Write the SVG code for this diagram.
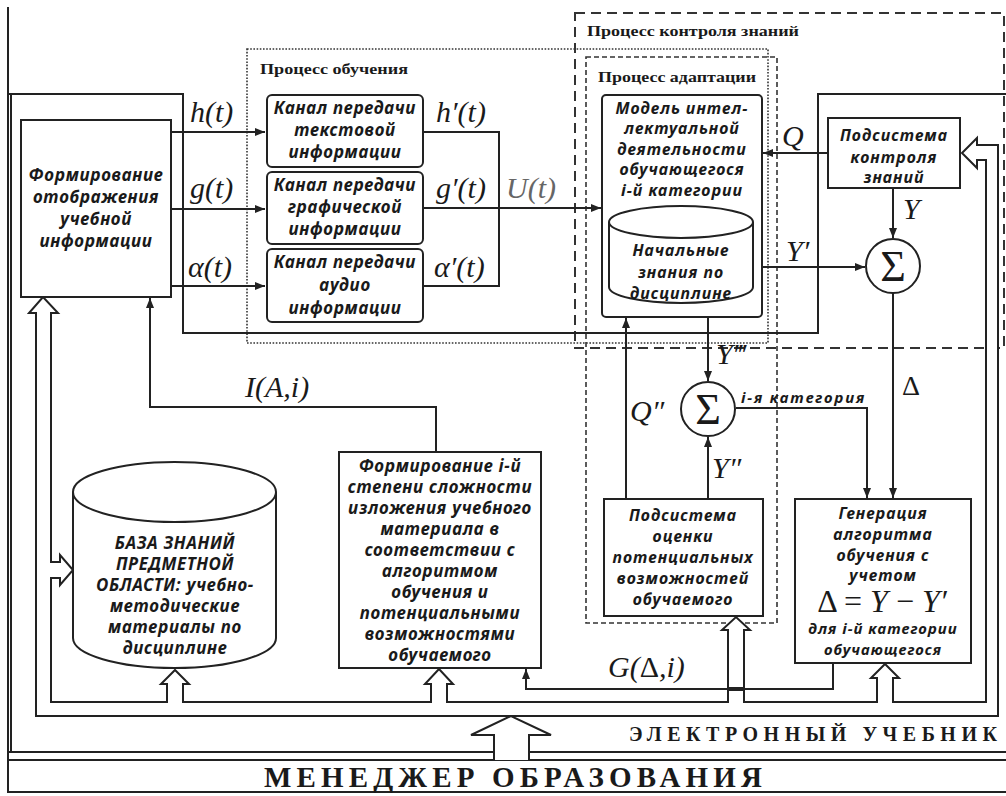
<svg xmlns="http://www.w3.org/2000/svg" width="1006" height="796" viewBox="0 0 1006 796">
<style>
.ln{fill:none;stroke:#222;stroke-width:2}
.bx{fill:#fff;stroke:#222;stroke-width:2}
.hp{fill:#fff;stroke:#222;stroke-width:2;stroke-linejoin:miter}
.dot{fill:none;stroke:#333;stroke-width:1.6;stroke-dasharray:1.6 1.6}
.dsh{fill:none;stroke:#333;stroke-width:2;stroke-dasharray:10 6}
.dsh2{fill:none;stroke:#333;stroke-width:1.6;stroke-dasharray:5 3}
.t{font-family:"Noto Sans","Liberation Sans",sans-serif;font-style:italic;font-weight:700;font-size:17px;letter-spacing:0.7px;fill:#1a1a1a;text-anchor:middle}
.s{font-size:16px;letter-spacing:1px}
.m{font-family:"Liberation Serif","Times New Roman",serif;font-style:italic;font-size:30px;fill:#1a1a1a}
.mu{font-family:"Liberation Serif","Times New Roman",serif;font-size:30px;fill:#1a1a1a}
.p{font-family:"Liberation Serif","Times New Roman",serif;font-weight:700;font-size:15px;fill:#1a1a1a}
.big{font-family:"Liberation Serif","Times New Roman",serif;font-weight:700;fill:#1a1a1a}
</style>
<defs>
<marker id="ah" viewBox="0 0 10 8" refX="10" refY="4" markerWidth="10" markerHeight="8" markerUnits="userSpaceOnUse" orient="auto"><path d="M0,0 L10,4 L0,8 z" fill="#222"/></marker>
</defs>
<rect width="1006" height="796" fill="#fff"/>

<g id="proc-learning">
<rect class="dot" x="247" y="49" width="521" height="294"/>
<text class="p" x="260" y="74" textLength="148" lengthAdjust="spacingAndGlyphs">Процесс обучения</text>
</g>
<g id="proc-control">
<rect class="dsh" x="575" y="13" width="429" height="335"/>
<text class="p" x="587" y="36" textLength="212" lengthAdjust="spacingAndGlyphs">Процесс контроля знаний</text>
</g>
<g id="proc-adapt">
<rect class="dsh2" x="586" y="57" width="191" height="566"/>
<text class="p" x="598" y="82" textLength="158" lengthAdjust="spacingAndGlyphs">Процесс адаптации</text>
</g>

<g id="connectors">
<path class="ln" d="M8,94 H183 V333 H818 V94 H1006"/>
<path class="ln" d="M171,132 H265" marker-end="url(#ah)"/>
<path class="ln" d="M171,209 H265" marker-end="url(#ah)"/>
<path class="ln" d="M171,286 H265" marker-end="url(#ah)"/>
<path class="ln" d="M423,132 H499 V286 H423"/>
<path class="ln" d="M423,208 H601" marker-end="url(#ah)"/>
<path class="ln" d="M828,153 H763" marker-end="url(#ah)"/>
<path class="ln" d="M893,188 V238" marker-end="url(#ah)"/>
<path class="ln" d="M762,267 H865" marker-end="url(#ah)"/>
<path class="ln" d="M893,293 V498" marker-end="url(#ah)"/>
<path class="ln" d="M708,317 V381" marker-end="url(#ah)"/>
<path class="ln" d="M626,499 V318" marker-end="url(#ah)"/>
<path class="ln" d="M708,499 V437" marker-end="url(#ah)"/>
<path class="ln" d="M736,408 H867 V498" marker-end="url(#ah)"/>
<path class="ln" d="M833,663 V689 H526 V669" marker-end="url(#ah)"/>
<path class="ln" d="M436,452 V407 H150 V298" marker-end="url(#ah)"/>
<path class="hp" d="M36,313 H29 L43,297 L58,313 H51 V562 H60 V555 L73,570 L60,585 V578 H51 V702 H167 V684 H161 L175,670 L189,684 H183 V702 H431 V684 H425 L439,669 L453,684 H447 V702 H728 V630 H722 L736,617 L750,630 H744 V702 H877 V678 H871 L885,664 L899,678 H893 V702 H986 V160 H977 V168 L962,153 L977,138 V145 H998 V716 H36 Z"/>
<rect x="728" y="687" width="16" height="4" fill="#222"/>
<text class="m" x="190" y="122">h(t)</text>
<text class="m" x="190" y="198">g(t)</text>
<text class="m" x="188" y="277">α(t)</text>
<text class="m" x="436" y="122">h′(t)</text>
<text class="m" x="436" y="198">g′(t)</text>
<text class="m" x="434" y="277">α′(t)</text>
<text class="m" x="506" y="198" style="fill:#666">U(t)</text>
<text class="m" x="782" y="146">Q</text>
<text class="m" x="903" y="219">Y</text>
<text class="m" x="786" y="261">Y′</text>
<text class="mu" x="902" y="395" style="font-size:28px">Δ</text>
<text class="m" x="716" y="364">Y‴</text>
<text class="m" x="630" y="421">Q″</text>
<text class="m" x="712" y="478">Y″</text>
<text class="t" x="741" y="403" style="text-anchor:start;font-size:15px" textLength="124" lengthAdjust="spacing">i-я категория</text>
<text class="m" x="245" y="397">I(A,i)</text>
<text class="m" x="608" y="677">G(<tspan style="font-style:normal">Δ</tspan>,i)</text>
</g>

<g id="formirovanie">
<rect class="bx" x="21" y="120" width="150" height="177"/>
<text class="t" x="96" y="181">Формирование</text>
<text class="t" x="96" y="203">отображения</text>
<text class="t" x="96" y="225">учебной</text>
<text class="t" x="96" y="247">информации</text>
</g>

<g id="ch-text">
<rect class="bx" x="267" y="95" width="156" height="72" rx="5"/>
<text class="t" x="345" y="114">Канал передачи</text>
<text class="t" x="345" y="136">текстовой</text>
<text class="t" x="345" y="158">информации</text>
</g>
<g id="ch-graph">
<rect class="bx" x="267" y="172" width="156" height="72" rx="5"/>
<text class="t" x="345" y="191">Канал передачи</text>
<text class="t" x="345" y="213">графической</text>
<text class="t" x="345" y="235">информации</text>
</g>
<g id="ch-audio">
<rect class="bx" x="267" y="249" width="156" height="73" rx="5"/>
<text class="t" x="345" y="268">Канал передачи</text>
<text class="t" x="345" y="291">аудио</text>
<text class="t" x="345" y="314">информации</text>
</g>

<g id="model">
<rect class="bx" x="602" y="95" width="160" height="222" rx="4"/>
<text class="t s" x="682" y="114">Модель интел-</text>
<text class="t s" x="682" y="134">лектуальной</text>
<text class="t s" x="682" y="155">деятельности</text>
<text class="t s" x="682" y="175">обучающегося</text>
<text class="t s" x="682" y="196">i-й категории</text>
</g>
<g id="init-knowledge">
<path class="bx" d="M609,222 V287 A72,16 0 0 0 753,287 V222"/>
<ellipse class="bx" cx="681" cy="222" rx="72" ry="16"/>
<text class="t s" x="681" y="256">Начальные</text>
<text class="t s" x="681" y="278">знания по</text>
<text class="t s" x="681" y="299">дисциплине</text>
</g>

<g id="ctrl-subsys">
<rect class="bx" x="828" y="118" width="132" height="70"/>
<text class="t s" x="894" y="141">Подсистема</text>
<text class="t s" x="894" y="163">контроля</text>
<text class="t s" x="894" y="183">знаний</text>
</g>

<g id="sum1">
<circle class="bx" cx="893" cy="266" r="27"/>
<text class="mu" x="893" y="281" style="font-size:44px;text-anchor:middle">Σ</text>
</g>
<g id="sum2">
<circle class="bx" cx="708" cy="409" r="27"/>
<text class="mu" x="708" y="424" style="font-size:44px;text-anchor:middle">Σ</text>
</g>

<g id="eval-subsys">
<rect class="bx" x="604" y="499" width="159" height="117"/>
<text class="t s" x="683" y="521">Подсистема</text>
<text class="t s" x="683" y="542">оценки</text>
<text class="t s" x="683" y="563">потенциальных</text>
<text class="t s" x="683" y="584">возможностей</text>
<text class="t s" x="683" y="605">обучаемого</text>
</g>

<g id="generation">
<rect class="bx" x="795" y="499" width="176" height="164"/>
<text class="t s" x="883" y="519">Генерация</text>
<text class="t s" x="883" y="540">алгоритма</text>
<text class="t s" x="883" y="561">обучения с</text>
<text class="t s" x="883" y="581">учетом</text>
<text class="m" x="882" y="612" style="font-size:32px;text-anchor:middle"><tspan style="font-style:normal">Δ = </tspan>Y<tspan style="font-style:normal"> − </tspan>Y′</text>
<text class="t" x="883" y="634" style="font-size:15px;letter-spacing:1px">для i-й категории</text>
<text class="t" x="883" y="655" style="font-size:15px;letter-spacing:1px">обучающегося</text>
</g>

<g id="complexity">
<rect class="bx" x="339" y="452" width="202" height="216"/>
<text class="t" x="440" y="472">Формирование i-й</text>
<text class="t" x="440" y="493">степени сложности</text>
<text class="t" x="440" y="514">изложения учебного</text>
<text class="t" x="440" y="535">материала в</text>
<text class="t" x="440" y="556">соответствии с</text>
<text class="t" x="440" y="577">алгоритмом</text>
<text class="t" x="440" y="598">обучения и</text>
<text class="t" x="440" y="619">потенциальными</text>
<text class="t" x="440" y="640">возможностями</text>
<text class="t" x="440" y="661">обучаемого</text>
</g>

<g id="kb">
<path class="bx" d="M73,492 V638 A101.5,30 0 0 0 276,638 V492"/>
<ellipse class="bx" cx="174.5" cy="492" rx="101.5" ry="30"/>
<text class="t" x="175" y="549">БАЗА ЗНАНИЙ</text>
<text class="t" x="175" y="570">ПРЕДМЕТНОЙ</text>
<text class="t" x="175" y="591">ОБЛАСТИ: учебно-</text>
<text class="t" x="175" y="612">методические</text>
<text class="t" x="175" y="633">материалы по</text>
<text class="t" x="175" y="654">дисциплине</text>
</g>

<g id="textbook">
<path class="ln" d="M8,7 V793"/>
<path class="ln" d="M11,94 V752"/>
<path class="ln" d="M8,752 H494 M529,752 H1006"/>
<text class="big" x="629" y="741" style="font-size:20px" textLength="368" lengthAdjust="spacing">ЭЛЕКТРОННЫЙ УЧЕБНИК</text>
</g>

<g id="manager">
<path class="ln" d="M8,760 H1006 M8,792 H1006"/>
<path class="hp" d="M494,760 V735 H471 L511,716 L551,735 H529 V760"/>
<text class="big" x="264" y="787" style="font-size:29px" textLength="498" lengthAdjust="spacing">МЕНЕДЖЕР ОБРАЗОВАНИЯ</text>
</g>
</svg>
